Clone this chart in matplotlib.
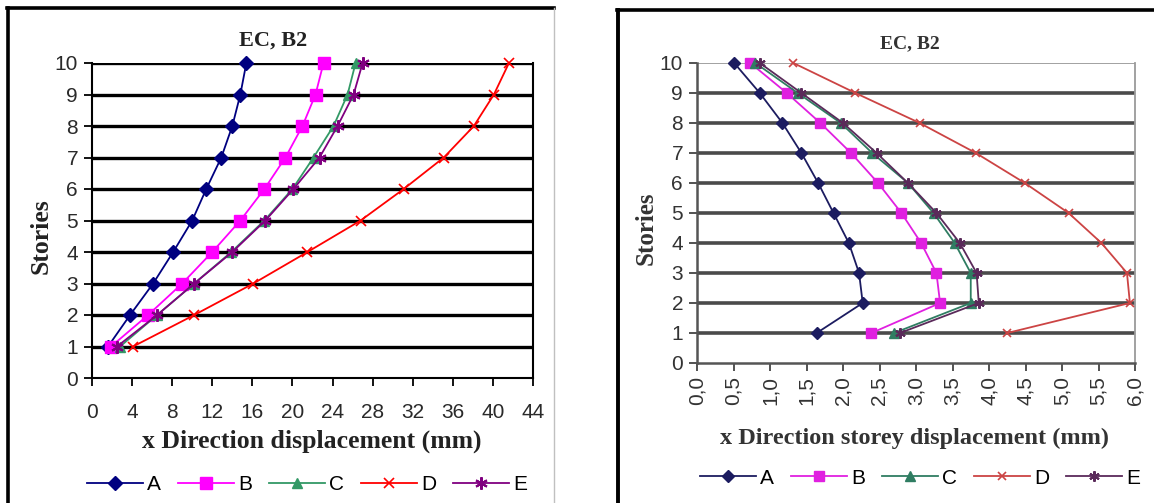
import matplotlib
matplotlib.use("Agg")
import matplotlib.pyplot as plt
from matplotlib.lines import Line2D
from matplotlib.ticker import FuncFormatter

stories = [1, 2, 3, 4, 5, 6, 7, 8, 9, 10]
series_names = ["A", "B", "C", "D", "E"]

# Left chart: x Direction displacement (mm)
disp_A = [1.6, 3.8, 6.1, 8.1, 10.0, 11.4, 12.9, 14.0, 14.8, 15.4]
disp_B = [1.9, 5.6, 9.0, 12.0, 14.8, 17.2, 19.3, 21.0, 22.3, 23.1]
disp_C = [2.8, 6.5, 10.2, 13.9, 17.2, 20.0, 22.1, 24.1, 25.5, 26.3]
disp_D = [4.1, 10.2, 16.1, 21.5, 26.8, 31.1, 35.1, 38.1, 40.1, 41.6]
disp_E = [2.5, 6.5, 10.2, 14.0, 17.3, 20.1, 22.7, 24.5, 26.1, 27.0]

# Right chart: x Direction storey displacement (mm)
drift_A = [1.64, 2.27, 2.22, 2.08, 1.87, 1.66, 1.43, 1.17, 0.86, 0.51]
drift_B = [2.39, 3.33, 3.28, 3.07, 2.80, 2.48, 2.11, 1.69, 1.23, 0.73]
drift_C = [2.70, 3.75, 3.75, 3.53, 3.24, 2.89, 2.40, 1.97, 1.38, 0.80]
drift_D = [4.25, 5.93, 5.89, 5.54, 5.09, 4.49, 3.82, 3.05, 2.17, 1.32]
drift_E = [2.78, 3.86, 3.83, 3.60, 3.28, 2.89, 2.46, 2.00, 1.43, 0.86]

left_xticks = [0, 4, 8, 12, 16, 20, 24, 28, 32, 36, 40, 44]
right_xticks = [0.0, 0.5, 1.0, 1.5, 2.0, 2.5, 3.0, 3.5, 4.0, 4.5, 5.0, 5.5, 6.0]
yticks = [0, 1, 2, 3, 4, 5, 6, 7, 8, 9, 10]

title_text = "EC, B2"
left_xlabel = "x Direction displacement (mm)"
right_xlabel = "x Direction storey displacement (mm)"
ylabel_text = "Stories"

W, H = 1154, 503
fig = plt.figure(figsize=(W / 100, H / 100), dpi=100)
fig.patch.set_facecolor("white")

SANS = ["Liberation Sans", "DejaVu Sans"]
SERIF = ["Liberation Serif", "DejaVu Serif"]

def fx(px):
    return px / W

def fy(py):
    return 1 - py / H

def fline(x0, y0, x1, y1, color, lw):
    fig.add_artist(Line2D([fx(x0), fx(x1)], [fy(y0), fy(y1)],
                          transform=fig.transFigure, color=color, lw=lw, zorder=0))

# Outer frames
fline(8, 8, 8, 510, "black", 2.6)
fline(7, 8, 554, 8, "black", 2.6)
fline(554, 8, 554, 510, "#c0c0c0", 1.0)
fline(618, 10, 618, 510, "black", 2.8)
fline(617, 10, 1160, 10, "black", 2.6)

# ---------------- Left chart ----------------
axL = fig.add_axes([fx(92), fy(378), fx(533 - 92), (378 - 63) / H])
left_styles = [
    (disp_A, "#000080", "D", 7.5, dict()),
    (disp_B, "#FF00FF", "s", 8.5, dict()),
    (disp_C, "#339966", "^", 7.5, dict()),
    (disp_D, "#FF0000", "x", 7, dict(markeredgewidth=1.2)),
    (disp_E, "#800080", (6, 2, 0), 9, dict(markeredgewidth=1.5)),
]
for (vals, col, mk, ms, kw), name in zip(left_styles, series_names):
    axL.plot(vals, stories, color=col, marker=mk, markersize=ms, lw=1.3,
             label=name, zorder=3, clip_on=False, **kw)
axL.set_xlim(0, 44)
axL.set_ylim(0, 10)
axL.set_xticks(left_xticks)
axL.set_yticks(yticks)
for y in stories:
    axL.axhline(y, color="black", lw=2.4, zorder=1)
for s in ["left", "bottom", "right"]:
    axL.spines[s].set_color("black")
    axL.spines[s].set_linewidth(1.5)
axL.spines["top"].set_visible(False)
axL.tick_params(axis="both", direction="out", length=6, width=1.3,
                colors="black", labelsize=15, labelcolor="#2a2a2a")
axL.tick_params(axis="x", pad=12)
axL.tick_params(axis="y", pad=4)
for lab in axL.get_xticklabels() + axL.get_yticklabels():
    lab.set_family(SANS)

fig.text(fx(273), fy(41), title_text, ha="center", va="center",
         family=SERIF, fontweight="bold", fontsize=16, color="#222222")
fig.text(fx(312), fy(441), left_xlabel, ha="center", va="center",
         family=SERIF, fontweight="bold", fontsize=18.5, color="#222222")
fig.text(fx(41), fy(236), ylabel_text, ha="center", va="center", rotation=90,
         family=SERIF, fontweight="bold", fontsize=18.5, color="#222222")

hL, lL = axL.get_legend_handles_labels()
fig.legend(hL, lL, loc="center", bbox_to_anchor=(fx(307), fy(485)), ncol=5,
           frameon=False, prop={"family": SANS, "size": 15},
           handlelength=2.7, handletextpad=0.2, columnspacing=0.8)

# ---------------- Right chart ----------------
axR = fig.add_axes([fx(697), fy(363), fx(1135 - 697), (363 - 63) / H])
right_styles = [
    (drift_A, "#1c1c60", "D", 6, dict()),
    (drift_B, "#e020e0", "s", 7, dict()),
    (drift_C, "#2f7d62", "^", 6.5, dict()),
    (drift_D, "#cc4444", "x", 6, dict(markeredgewidth=1.2)),
    (drift_E, "#5a2a5a", (6, 2, 0), 7.5, dict(markeredgewidth=1.5)),
]
for (vals, col, mk, ms, kw), name in zip(right_styles, series_names):
    axR.plot(vals, stories, color=col, marker=mk, markersize=ms, lw=1.3,
             label=name, zorder=3, clip_on=False, **kw)
axR.set_xlim(0, 6)
axR.set_ylim(0, 10)
axR.set_xticks(right_xticks)
axR.set_yticks(yticks)
axR.xaxis.set_major_formatter(FuncFormatter(lambda v, p: f"{v:.1f}".replace(".", ",")))
for y in stories[:-1]:
    axR.axhline(y, color="#4a4a4a", lw=2.6, zorder=1)
axR.axhline(10, color="#9a9a9a", lw=1.3, zorder=1)
axR.spines["left"].set_color("#555555")
axR.spines["bottom"].set_color("#555555")
axR.spines["left"].set_linewidth(1.8)
axR.spines["bottom"].set_linewidth(1.8)
axR.spines["right"].set_color("#9a9a9a")
axR.spines["right"].set_linewidth(1.3)
axR.spines["top"].set_visible(False)
axR.tick_params(axis="both", direction="out", length=6, width=1.3,
                colors="#444444", labelsize=15, labelcolor="#333333")
axR.tick_params(axis="y", pad=4)
for lab in axR.get_xticklabels():
    lab.set_rotation(90)
for lab in axR.get_xticklabels() + axR.get_yticklabels():
    lab.set_family(SANS)

fig.text(fx(910), fy(44), title_text, ha="center", va="center",
         family=SERIF, fontweight="bold", fontsize=14, color="#333333")
fig.text(fx(914), fy(438), right_xlabel, ha="center", va="center",
         family=SERIF, fontweight="bold", fontsize=17.5, color="#333333")
fig.text(fx(646), fy(228), ylabel_text, ha="center", va="center", rotation=90,
         family=SERIF, fontweight="bold", fontsize=18, color="#333333")

hR, lR = axR.get_legend_handles_labels()
fig.legend(hR, lR, loc="center", bbox_to_anchor=(fx(920), fy(478)), ncol=5,
           frameon=False, prop={"family": SANS, "size": 15},
           handlelength=2.7, handletextpad=0.2, columnspacing=0.8)

fig.savefig("out.png", dpi=100)
